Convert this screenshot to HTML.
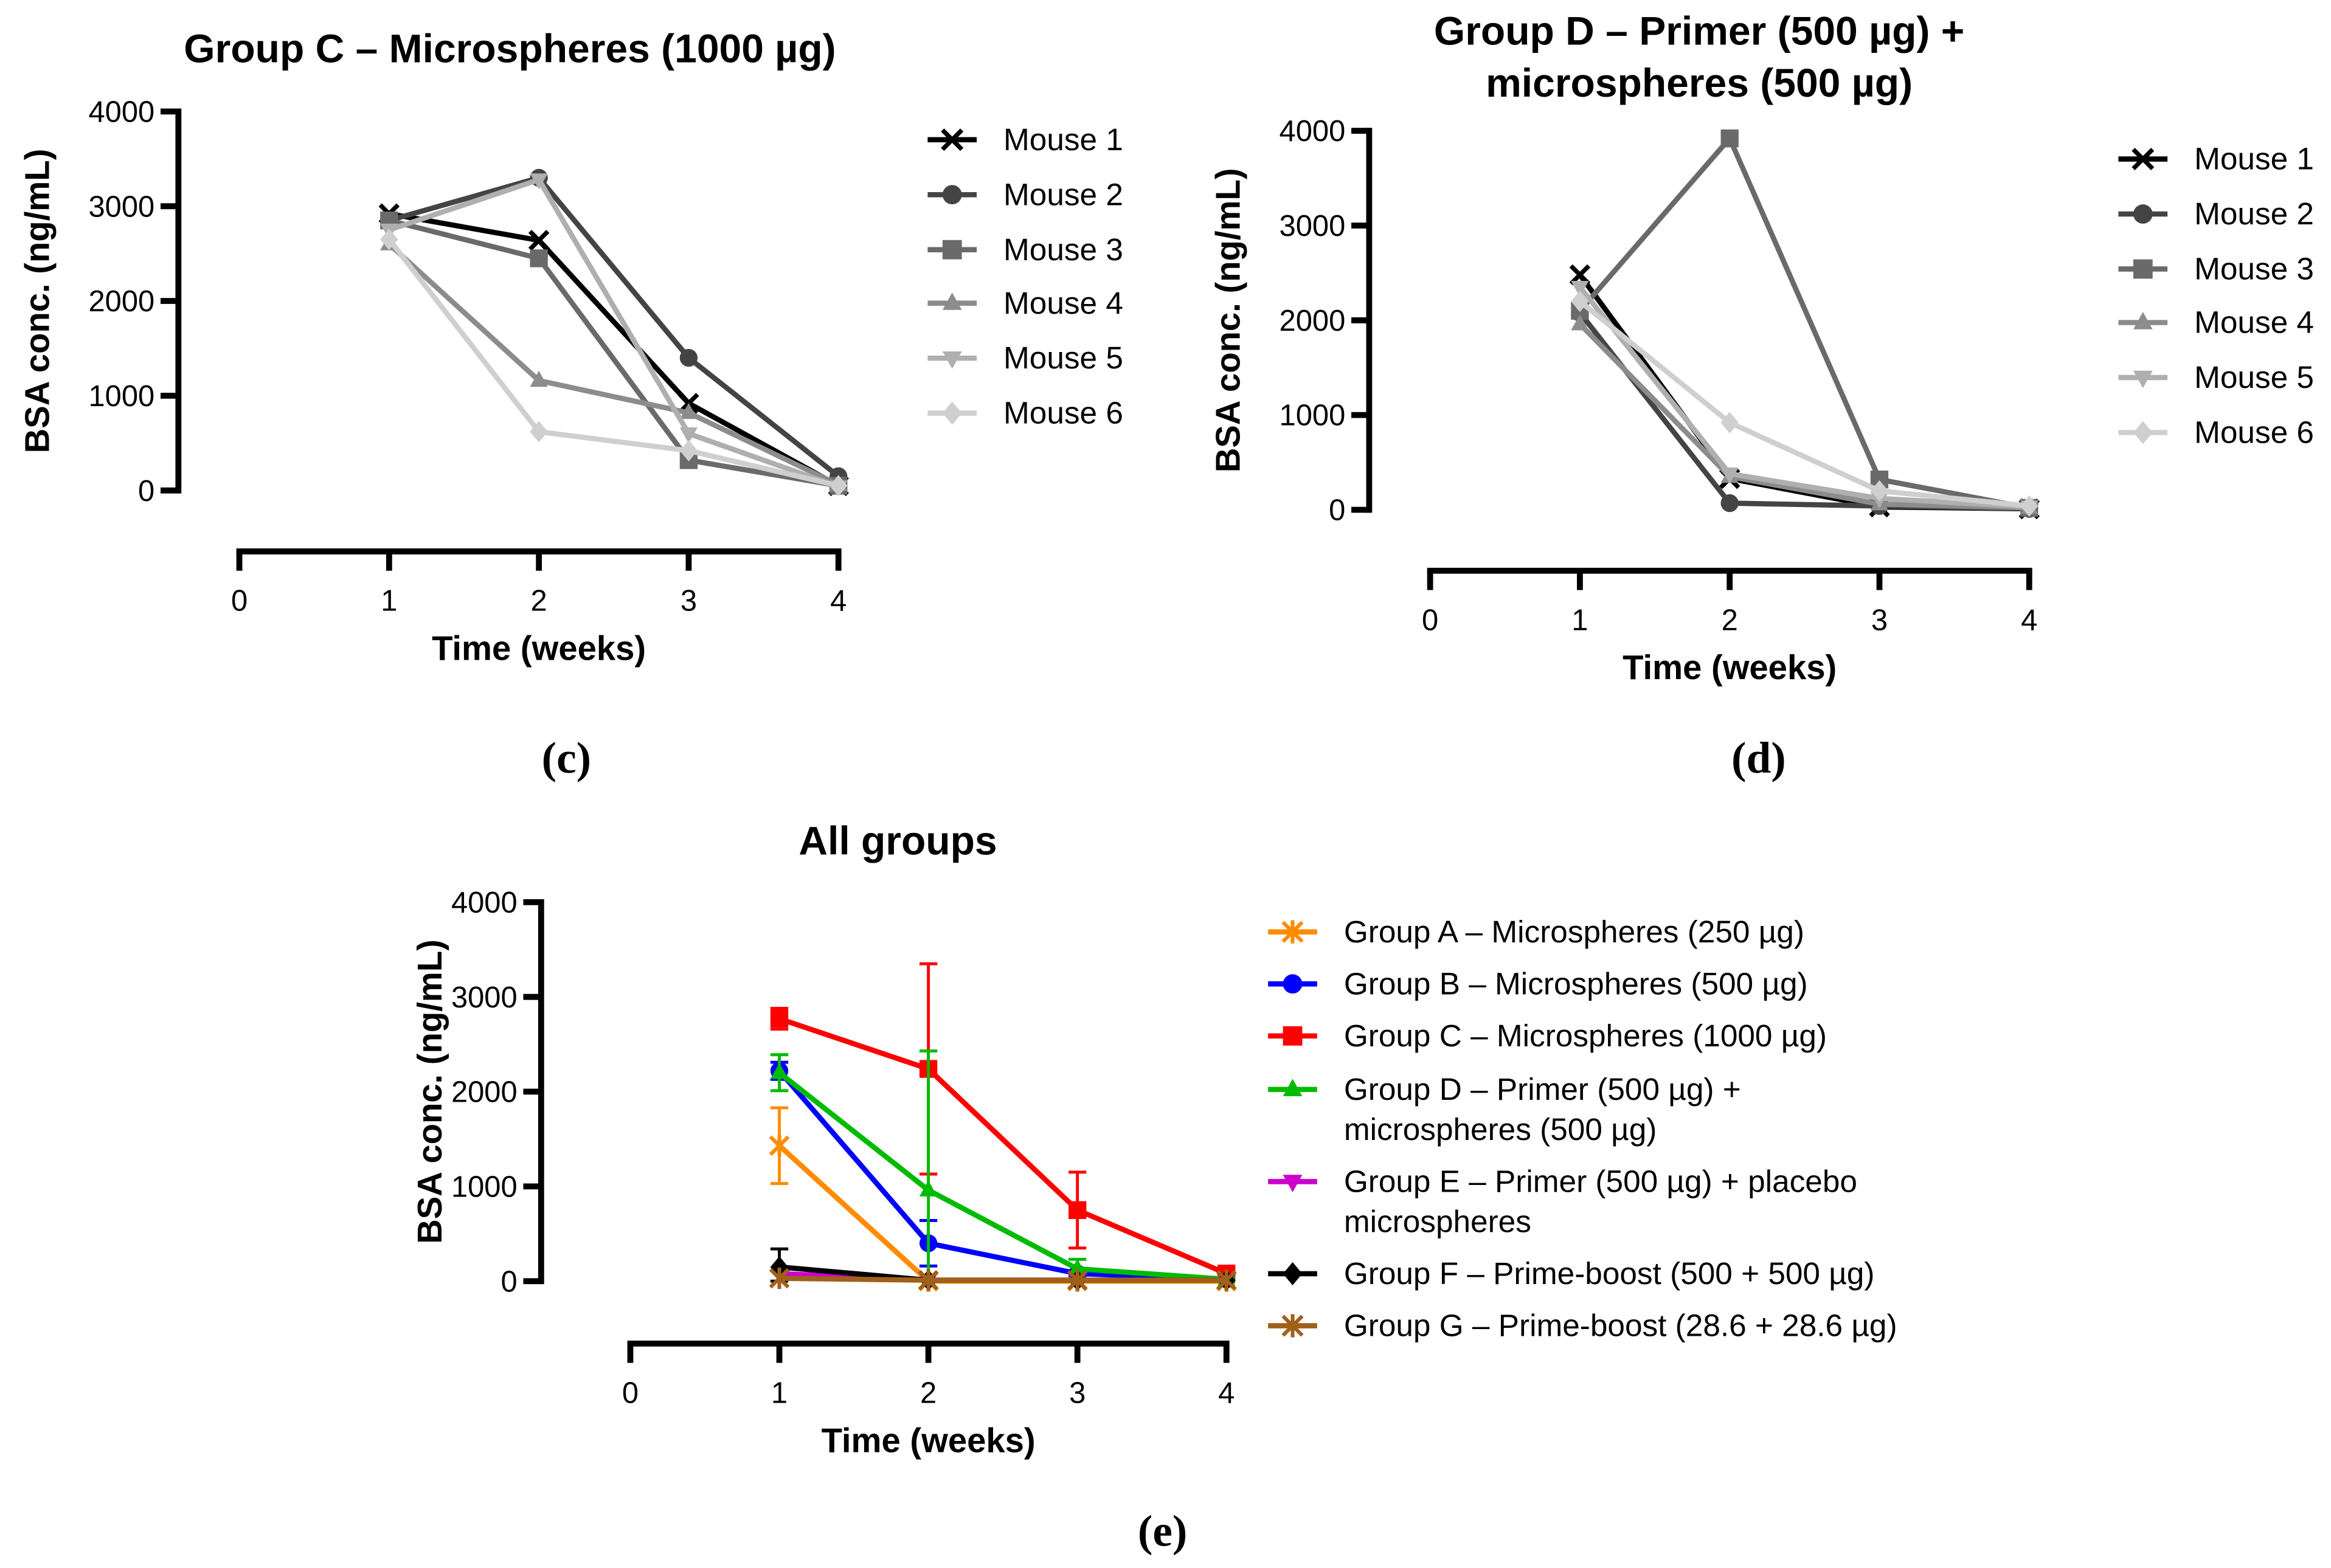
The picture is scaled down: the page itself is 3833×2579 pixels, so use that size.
<!DOCTYPE html>
<html><head><meta charset="utf-8"><style>
html,body{margin:0;padding:0;background:#fff;}
svg{display:block;font-family:"Liberation Sans",Arial,sans-serif;}
</style></head><body>
<svg id="fig" width="3833" height="2579" viewBox="0 0 1568 1055" preserveAspectRatio="none" xmlns="http://www.w3.org/2000/svg"></svg>
<script>
// ---------- data ----------
const weeks = [1, 2, 3, 4];
const xTicks = [0, 1, 2, 3, 4];
const yTicks = [0, 1000, 2000, 3000, 4000];
const mouseLabels = ["Mouse 1","Mouse 2","Mouse 3","Mouse 4","Mouse 5","Mouse 6"];
// Group C individual mice
const cM1 = [2920, 2640, 920, 50];
const cM2 = [2850, 3300, 1400, 150];
const cM3 = [2850, 2450, 320, 50];
const cM4 = [2600, 1160, 820, 60];
const cM5 = [2750, 3280, 600, 40];
const cM6 = [2650, 620, 420, 50];
// Group D individual mice
const dM1 = [2480, 330, 30, 10];
const dM2 = [2080, 70, 40, 10];
const dM3 = [2100, 3920, 320, 20];
const dM4 = [1960, 350, 60, 20];
const dM5 = [2350, 380, 120, 30];
const dM6 = [2200, 920, 200, 40];
// All groups means and SD
const groupLabels = [["Group A – Microspheres (250 µg)"],["Group B – Microspheres (500 µg)"],["Group C – Microspheres (1000 µg)"],["Group D – Primer (500 µg) +","microspheres (500 µg)"],["Group E – Primer (500 µg) + placebo","microspheres"],["Group F – Prime-boost (500 + 500 µg)"],["Group G – Prime-boost (28.6 + 28.6 µg)"]];
const gA = [1430, 0, 0, 0];   const gAerr = [400, 0, 0, 0];
const gB = [2220, 400, 80, 20]; const gBerr = [90, 240, 30, 10];
const gC = [2770, 2240, 750, 80]; const gCerr = [110, 1110, 400, 20];
const gD = [2200, 960, 130, 20]; const gDerr = [190, 1470, 100, 10];
const gE = [80, 10, 10, 10]; const gEerr = [0, 0, 0, 0];
const gF = [150, 10, 10, 10]; const gFerr = [190, 0, 0, 0];
const gG = [30, 10, 10, 10]; const gGerr = [0, 0, 0, 0];

const NS = "http://www.w3.org/2000/svg";
const svg = document.getElementById("fig");
function el(tag, attrs, parent, text) {
  const e = document.createElementNS(NS, tag);
  for (const k in attrs) e.setAttribute(k, attrs[k]);
  if (text !== undefined) e.textContent = text;
  (parent || svg).appendChild(e);
  return e;
}
function marker(g, type, x, y, color, r) {
  r = r || 6;
  if (type === "x") {
    el("path", {d:`M${x-r} ${y-r}L${x+r} ${y+r}M${x-r} ${y+r}L${x+r} ${y-r}`, stroke:color, "stroke-width":3, fill:"none"}, g);
  } else if (type === "ast") {
    el("path", {d:`M${x-r} ${y-r}L${x+r} ${y+r}M${x-r} ${y+r}L${x+r} ${y-r}M${x} ${y-r*1.2}L${x} ${y+r*1.2}`, stroke:color, "stroke-width":2.5, fill:"none"}, g);
  } else if (type === "circle") {
    el("circle", {cx:x, cy:y, r:r, fill:color}, g);
  } else if (type === "square") {
    el("rect", {x:x-r, y:y-r, width:2*r, height:2*r, fill:color}, g);
  } else if (type === "up") {
    el("path", {d:`M${x} ${y-r*1.1}L${x+r} ${y+r*0.7}L${x-r} ${y+r*0.7}Z`, fill:color}, g);
  } else if (type === "down") {
    el("path", {d:`M${x} ${y+r*1.1}L${x+r} ${y-r*0.7}L${x-r} ${y-r*0.7}Z`, fill:color}, g);
  } else if (type === "diamond") {
    el("path", {d:`M${x} ${y-r*1.2}L${x+r} ${y}L${x} ${y+r*1.2}L${x-r} ${y}Z`, fill:color}, g);
  }
}

function panel(cfg) {
  const g = el("g", {});
  
  
  const xs = v => cfg.x0 + (v / 4) * (cfg.x1 - cfg.x0);
  const ys = v => cfg.yb - (v / 4000) * (cfg.yb - cfg.yt);
  const t = el("text", {x:cfg.titleX, "text-anchor":"middle", "font-weight":"bold", "font-size":27}, g);
  
  
  cfg.title.forEach((line, i) => el("tspan", {x:cfg.titleX, y:cfg.titleY + i*35}, t, line));
  const ya = el("g", {}, g);
  
  
  el("line", {x1:cfg.ax, y1:cfg.yt-2, x2:cfg.ax, y2:cfg.yb+2, stroke:"#000", "stroke-width":4}, ya);
  yTicks.forEach(v => {
    el("line", {x1:cfg.ax-12, y1:ys(v), x2:cfg.ax, y2:ys(v), stroke:"#000", "stroke-width":4}, ya);
    el("text", {x:cfg.ax-16, y:ys(v)+7, "text-anchor":"end", "font-size":20}, ya, String(v));
  });
  const yt = el("text", {transform:`translate(${cfg.yTitleX},${(cfg.yt+cfg.yb)/2}) rotate(-90)`, "text-anchor":"middle", "font-weight":"bold", "font-size":23}, g, "BSA conc. (ng/mL)");
  
  
  const xa = el("g", {}, g);
  
  
  el("line", {x1:cfg.x0-2, y1:cfg.xay, x2:cfg.x1+2, y2:cfg.xay, stroke:"#000", "stroke-width":4}, xa);
  xTicks.forEach(v => {
    el("line", {x1:xs(v), y1:cfg.xay, x2:xs(v), y2:cfg.xay+13, stroke:"#000", "stroke-width":4}, xa);
    el("text", {x:xs(v), y:cfg.xay+40, "text-anchor":"middle", "font-size":20}, xa, String(v));
  });
  const xt = el("text", {x:(cfg.x0+cfg.x1)/2, y:cfg.xay+73, "text-anchor":"middle", "font-weight":"bold", "font-size":23}, g, "Time (weeks)");
  
  
  cfg.series.forEach((s, i) => {
    const sg = el("g", {}, g);
    
    
    const pts = weeks.map((w, j) => [xs(w), ys(s.v[j])]);
    if (s.err) {
      weeks.forEach((w, j) => {
        if (s.err[j] > 0) {
          const x = xs(w), y1 = ys(s.v[j] + s.err[j]), y2 = ys(Math.max(0, s.v[j] - s.err[j]));
          el("path", {d:`M${x} ${y1}L${x} ${y2}M${x-6} ${y1}L${x+6} ${y1}M${x-6} ${y2}L${x+6} ${y2}`, stroke:s.c, "stroke-width":2, fill:"none"}, sg);
        }
      });
    }
    el("polyline", {points:pts.map(p => p.join(",")).join(" "), fill:"none", stroke:s.c, "stroke-width":3.5, "stroke-linejoin":"round"}, sg);
    pts.forEach(p => marker(sg, s.m, p[0], p[1], s.c, 6));
  });
  const lg = el("g", {}, g);
  
  
  cfg.legend.forEach((L, i) => {
    const eg = el("g", {}, lg);
    
    
    const y = cfg.legY[i];
    el("line", {x1:cfg.legX, y1:y, x2:cfg.legX+33, y2:y, stroke:cfg.series[i].c, "stroke-width":3.5}, eg);
    marker(eg, cfg.series[i].m, cfg.legX+16.5, y, cfg.series[i].c, 6.5);
    L.forEach((line, k) => el("text", {x:cfg.legX+51, y:y+7+k*27, "font-size":21}, eg, line));
  });
  const pl = el("text", {x:cfg.letterX, y:cfg.letterY, "text-anchor":"middle", "font-family":"Liberation Serif, serif", "font-weight":"bold", "font-size":30}, g, cfg.letter);
  
  
}

const grays = ["#000000","#444444","#6a6a6a","#8c8c8c","#afafaf","#cfcfcf"];
const mk = ["x","circle","square","up","down","diamond"];
const cData = [cM1,cM2,cM3,cM4,cM5,cM6];
const dData = [dM1,dM2,dM3,dM4,dM5,dM6];

panel({name:"chart-group-c", title:["Group C – Microspheres (1000 µg)"], titleX:343, titleY:42,
  ax:120, yt:75, yb:330, yTitleX:33, x0:161, x1:564, xay:371,
  series:cData.map((v,i)=>({v:v, c:grays[i], m:mk[i]})),
  legend:mouseLabels.map(s=>[s]), legX:624, legY:[94,131,168,204,241,278],
  letter:"(c)", letterX:381, letterY:520});

panel({name:"chart-group-d", title:["Group D – Primer (500 µg) +","microspheres (500 µg)"], titleX:1143, titleY:30,
  ax:921, yt:88, yb:343, yTitleX:834, x0:962, x1:1365, xay:384,
  series:dData.map((v,i)=>({v:v, c:grays[i], m:mk[i]})),
  legend:mouseLabels.map(s=>[s]), legX:1425, legY:[107,144,181,217,254,291],
  letter:"(d)", letterX:1183, letterY:520});

const gCols = ["#ff8c00","#0000ff","#ff0000","#00bb00","#cc00cc","#000000","#a0601a"];
const gMk = ["ast","circle","square","up","down","diamond","ast"];
const gVals = [gA,gB,gC,gD,gE,gF,gG];
const gErrs = [gAerr,gBerr,gCerr,gDerr,gEerr,gFerr,gGerr];
panel({name:"chart-all-groups", title:["All groups"], titleX:604, titleY:575,
  ax:364, yt:607, yb:862, yTitleX:297, x0:424, x1:825, xay:904,
  series:gVals.map((v,i)=>({v:v, err:gErrs[i], c:gCols[i], m:gMk[i]})),
  legend:groupLabels, legX:853, legY:[627,662,697,733,795,857,892],
  letter:"(e)", letterX:782, letterY:1040});
</script>
</body></html>
